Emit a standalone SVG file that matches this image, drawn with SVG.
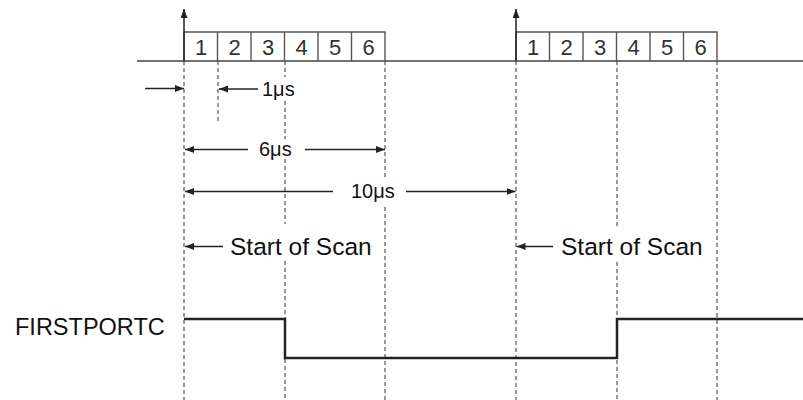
<svg xmlns="http://www.w3.org/2000/svg" width="803" height="400" viewBox="0 0 803 400">
<style>
.dash{stroke:#777;stroke-width:1.5;stroke-dasharray:4 3;fill:none}
.box{stroke:#555;stroke-width:1.4;fill:none}
.base{stroke:#444;stroke-width:1.5;fill:none}
.arr{stroke:#222;stroke-width:1.5;fill:none;marker-end:url(#ah)}
.dig{font-family:"Liberation Sans",Arial,sans-serif;font-size:22px;fill:#333;text-anchor:middle}
.lbl{font-family:"Liberation Sans",Arial,sans-serif;font-size:20px;fill:#111}
.big{font-family:"Liberation Sans",Arial,sans-serif;font-size:24.5px;fill:#111}
.sig{stroke:#222;stroke-width:2.5;fill:none}
</style>
<defs>
<marker id="ah" markerUnits="userSpaceOnUse" markerWidth="10" markerHeight="8" refX="9" refY="3.5" orient="auto">
<path d="M0,0 L9,3.5 L0,7 z" fill="#222"/>
</marker>
</defs>
<g id="grid">
<line class="dash" x1="184" y1="61" x2="184" y2="400"/>
<line class="dash" x1="218" y1="61" x2="218" y2="121"/>
<path class="dash" d="M285,61V77M285,101V139M285,159V224M285,261V400"/>
<path class="dash" d="M385,61V180M385,207V400"/>
<line class="dash" x1="516" y1="61" x2="516" y2="400"/>
<path class="dash" d="M617,61V228M617,262V400"/>
<line class="dash" x1="717" y1="61" x2="717" y2="400"/>
</g>
<g id="axis">
<line class="base" x1="137" y1="61" x2="803" y2="61"/>
</g>
<g id="slots1">
<path class="box" d="M184,61V32H385V61M217.5,32V61M251,32V61M284.5,32V61M318,32V61M351.5,32V61"/>
<text class="dig" x="201" y="54.5">1</text>
<text class="dig" x="234.5" y="54.5">2</text>
<text class="dig" x="268" y="54.5">3</text>
<text class="dig" x="301.5" y="54.5">4</text>
<text class="dig" x="335" y="54.5">5</text>
<text class="dig" x="368.5" y="54.5">6</text>
</g>
<g id="slots2">
<path class="box" d="M516,61V32H717V61M549.5,32V61M583,32V61M616.5,32V61M650,32V61M683.5,32V61"/>
<text class="dig" x="533" y="54.5">1</text>
<text class="dig" x="566.5" y="54.5">2</text>
<text class="dig" x="600" y="54.5">3</text>
<text class="dig" x="633.5" y="54.5">4</text>
<text class="dig" x="667" y="54.5">5</text>
<text class="dig" x="700.5" y="54.5">6</text>
</g>
<g id="connectors">
<line class="arr" x1="184" y1="61" x2="184" y2="9"/>
<line class="arr" x1="516" y1="61" x2="516" y2="9"/>
<line class="arr" x1="145" y1="88.5" x2="184" y2="88.5"/>
<line class="arr" x1="258" y1="89" x2="219" y2="89"/>
<line class="arr" x1="248" y1="149.5" x2="185" y2="149.5"/>
<line class="arr" x1="305" y1="149.5" x2="385" y2="149.5"/>
<line class="arr" x1="333" y1="191.5" x2="185" y2="191.5"/>
<line class="arr" x1="406" y1="191.5" x2="515.5" y2="191.5"/>
<line class="arr" x1="223" y1="246.5" x2="185" y2="246.5"/>
<line class="arr" x1="553" y1="246.5" x2="516.5" y2="246.5"/>
</g>
<g id="labels">
<text class="lbl" x="262" y="95.5">1μs</text>
<text class="lbl" x="259" y="155.5">6μs</text>
<text class="lbl" x="351" y="198">10μs</text>
<text class="big" x="230" y="254.5">Start of Scan</text>
<text class="big" x="561" y="254.5">Start of Scan</text>
</g>
<g id="signal">
<text class="big" x="15" y="335" style="font-size:23.5px">FIRSTPORTC</text>
<path class="sig" d="M184,319H285V358H617V319H803"/>
</g>
</svg>
